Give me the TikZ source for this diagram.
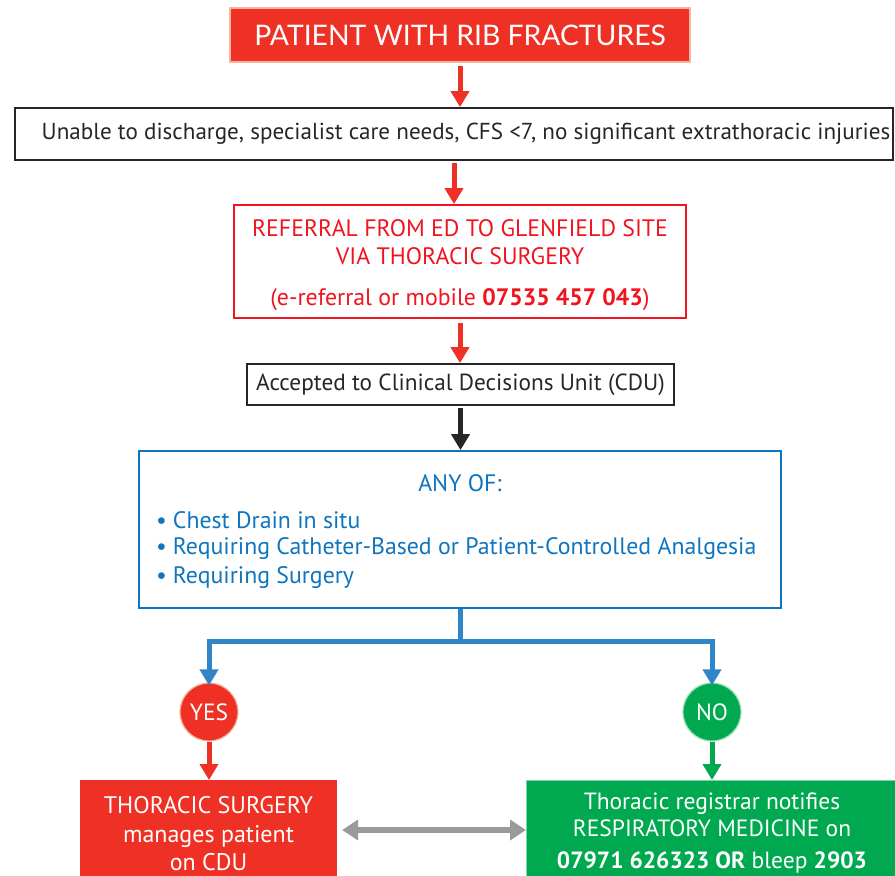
\documentclass[tikz,border=0pt]{standalone}
\usepackage{fontspec}
\setmainfont{PT Sans}
\newfontfamily\titlefont{Lato}
\usetikzlibrary{arrows.meta,positioning}
\definecolor{titlered}{HTML}{EE3124}
\definecolor{titleedge}{HTML}{F4B6A0}
\definecolor{txtred}{HTML}{F0141E}
\definecolor{boxblue}{HTML}{0E75BE}
\definecolor{lineblue}{HTML}{2E86C8}
\definecolor{okgreen}{HTML}{00A94F}
\definecolor{arrgrey}{HTML}{9A9A9C}
\tikzset{
  boxbase/.style={rectangle, inner sep=0pt, align=center},
  fat/.style={line width=5pt, -{Triangle[width=18pt,length=16pt]}},
  bodytext/.style={font=\fontsize{23.3}{28}\selectfont},
}
\begin{document}
\begin{tikzpicture}[x=1pt,y=-1pt]
\useasboundingbox (0,0) rectangle (895,876);
\clip (0,0) rectangle (895,876);
% title
\node[boxbase, fill=titlered, draw=titleedge, line width=1.5pt, minimum width=460pt, minimum height=54pt, text=white, font=\titlefont\fontsize{28.3}{32}\selectfont] (title) at (460,35) {PATIENT WITH RIB FRACTURES};
% criteria
\node[boxbase, draw=black!85, line width=1.8pt, minimum width=878pt, minimum height=52pt, font=\fontsize{23.1}{28}\selectfont, text=black!85] (crit) at (454,134) {\hspace{24pt}Unable to discharge, specialist care needs, CFS <7, no significant extrathoracic injuries};
% referral
\node[boxbase, draw=txtred, line width=1.8pt, minimum width=452pt, minimum height=113pt] (ref) at (460,261.5) {};
\node[text=txtred, align=center, inner sep=0pt, font=\fontsize{23.8}{28}\selectfont] (reftxt) at (460,265.5) {REFERRAL FROM ED TO GLENFIELD SITE\\VIA THORACIC SURGERY\\[13pt](e-referral or mobile \textbf{07535 457 043})};
% accepted
\node[boxbase, draw=black!85, line width=1.8pt, minimum width=427pt, minimum height=41pt, bodytext, text=black!85] (cdu) at (460.5,384.5) {Accepted to Clinical Decisions Unit (CDU)};
% any of
\node[boxbase, draw=boxblue, line width=1.8pt, minimum width=642pt, minimum height=157pt] (any) at (460,529.5) {};
\node[text=boxblue, inner sep=0pt, font=\fontsize{23.8}{28}\selectfont] (anyhead) at (460,483) {ANY OF:};
\tikzset{bullet/.style={text=boxblue, inner sep=0pt, anchor=west, font=\fontsize{23.8}{28}\selectfont}}
\node[bullet] (b1) at (156,520) {•\hspace{6pt}Chest Drain in situ};
\node[bullet] (b2) at (156,548.5) {•\hspace{6pt}Requiring Catheter-Based or Patient-Controlled Analgesia};
\node[bullet] (b3) at (156,577.5) {•\hspace{6pt}Requiring Surgery};
% decisions
\node[circle, fill=titlered, draw=titleedge, line width=1.2pt, minimum size=58pt, inner sep=0pt, text=white, font=\fontsize{23.5}{28}\selectfont] (yes) at (209,712) {YES};
\node[circle, fill=okgreen, draw=okgreen!40, line width=1.2pt, minimum size=58pt, inner sep=0pt, text=white, font=\fontsize{23.5}{28}\selectfont] (no) at (712,712) {NO};
% outcomes
\node[boxbase, fill=titlered, minimum width=257pt, minimum height=110pt, anchor=north] (thor) at (208.5,780) {};
\node[text=white, align=center, inner sep=0pt, font=\fontsize{24}{28.5}\selectfont] (thortxt) at (208.5,834) {THORACIC SURGERY\\manages patient\\on CDU};
\node[boxbase, fill=okgreen, draw=okgreen!50, line width=1pt, minimum width=380pt, minimum height=110pt, anchor=north west] (resp) at (526,780) {};
\node[text=white, align=center, inner sep=0pt, font=\fontsize{23.5}{27.5}\selectfont] (resptxt) at (712,833) {Thoracic registrar notifies\\RESPIRATORY MEDICINE on\\[4pt]\textbf{07971 626323 OR} bleep \textbf{2903}};
% connectors
\draw[fat, titlered] (title.south) ++(0,3) coordinate (t0) -- (t0 |- crit.north);
\draw[fat, titlered] (crit.south) ++(0,2) coordinate (c0) -- (c0 |- ref.north);
\draw[fat, titlered] (ref.south) ++(0,4) coordinate (r0) -- (r0 |- cdu.north);
\draw[fat, black!85] (cdu.south) ++(0,2) coordinate (d0) -- (d0 |- any.north);
\coordinate (split) at (460,641);
\draw[line width=5pt, lineblue] (any.south) -- (split);
\draw[fat, lineblue] (split) -| ([yshift=-3pt]yes.north);
\draw[fat, lineblue] (split) -| ([yshift=-3pt]no.north);
\draw[fat, titlered] (yes.south) -- (yes.south |- thor.north);
\draw[fat, okgreen] (no.south) -- (no.south |- resp.north);
\draw[line width=6pt, arrgrey, {Triangle[width=20pt,length=16pt]}-{Triangle[width=20pt,length=16pt]}] ([xshift=5pt]thor.east |- 0,830) coordinate (g0) -- (g0 -| resp.west) ;
\end{tikzpicture}
\end{document}
